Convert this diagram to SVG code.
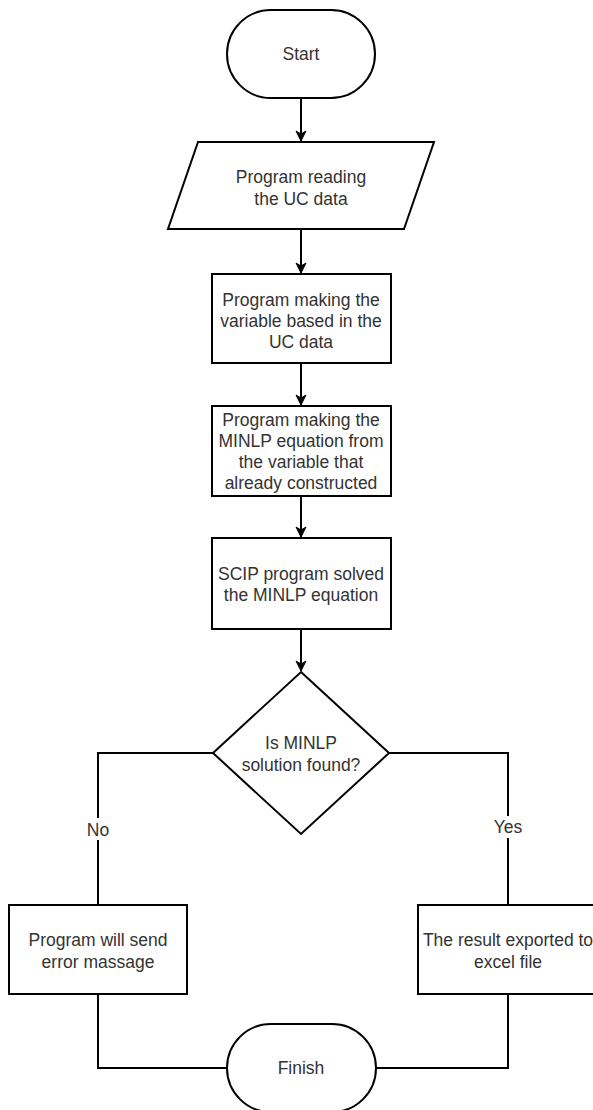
<svg xmlns="http://www.w3.org/2000/svg" width="593" height="1110" viewBox="0 0 593 1110">
  <style>
    .shape { fill: #ffffff; stroke: #000000; stroke-width: 2; }
    .edge { fill: none; stroke: #000000; stroke-width: 2; }
    .t { font-family: "Liberation Sans", Arial, sans-serif; font-size: 17.5px; fill: #333333; text-anchor: middle; }
    .lbl { fill: #ffffff; stroke: none; }
  </style>
  <defs>
    <marker id="arrow" markerUnits="userSpaceOnUse" markerWidth="12" markerHeight="12" viewBox="0 0 12 12" refX="11" refY="6" orient="auto">
      <path d="M1,1 L11,6 L1,11 L4,6 z" fill="#000000" stroke="#000000" stroke-width="1"/>
    </marker>
  </defs>
  <rect width="593" height="1110" fill="#ffffff"/>

  <g id="connectors">
    <line class="edge" x1="301" y1="98" x2="301" y2="141" marker-end="url(#arrow)"/>
    <line class="edge" x1="301" y1="229" x2="301" y2="273" marker-end="url(#arrow)"/>
    <line class="edge" x1="301" y1="363" x2="301" y2="405" marker-end="url(#arrow)"/>
    <line class="edge" x1="301" y1="496" x2="301" y2="537" marker-end="url(#arrow)"/>
    <line class="edge" x1="301" y1="629" x2="301" y2="671" marker-end="url(#arrow)"/>
    <path class="edge" d="M213,753 H98 V905"/>
    <path class="edge" d="M389,753 H508 V905"/>
    <path class="edge" d="M98,994 V1068 H227"/>
    <path class="edge" d="M508,994 V1068 H376"/>
    <rect class="lbl" x="86" y="818" width="24" height="22"/>
    <text class="t" x="98" y="836">No</text>
    <rect class="lbl" x="492" y="816" width="32" height="22"/>
    <text class="t" x="508" y="833">Yes</text>
  </g>

  <g id="start">
    <rect class="shape" x="227" y="10" width="148" height="88" rx="44" ry="44"/>
    <text class="t" x="301" y="60">Start</text>
  </g>

  <g id="read-data">
    <polygon class="shape" points="198,142 434,142 404,229 168,229"/>
    <text class="t" x="301" y="183">Program reading</text>
    <text class="t" x="301" y="205">the UC data</text>
  </g>

  <g id="make-variable">
    <rect class="shape" x="212" y="274" width="179" height="89"/>
    <text class="t" x="301" y="306">Program making the</text>
    <text class="t" x="301" y="327">variable based in the</text>
    <text class="t" x="301" y="348">UC data</text>
  </g>

  <g id="make-equation">
    <rect class="shape" x="212" y="406" width="179" height="90"/>
    <text class="t" x="301" y="426">Program making the</text>
    <text class="t" x="301" y="447">MINLP equation from</text>
    <text class="t" x="301" y="468">the variable that</text>
    <text class="t" x="301" y="489">already constructed</text>
  </g>

  <g id="scip-solve">
    <rect class="shape" x="212" y="538" width="179" height="91"/>
    <text class="t" x="301" y="580">SCIP program solved</text>
    <text class="t" x="301" y="601">the MINLP equation</text>
  </g>

  <g id="decision">
    <polygon class="shape" points="301,672 389,753 301,834 213,753"/>
    <text class="t" x="301" y="749">Is MINLP</text>
    <text class="t" x="301" y="771">solution found?</text>
  </g>

  <g id="error">
    <rect class="shape" x="9" y="905" width="178" height="89"/>
    <text class="t" x="98" y="946">Program will send</text>
    <text class="t" x="98" y="968">error massage</text>
  </g>

  <g id="export">
    <rect class="shape" x="418" y="905" width="178" height="89"/>
    <text class="t" x="508" y="946">The result exported to</text>
    <text class="t" x="508" y="968">excel file</text>
  </g>

  <g id="finish">
    <rect class="shape" x="227" y="1024" width="149" height="88" rx="44" ry="44"/>
    <text class="t" x="301" y="1074">Finish</text>
  </g>
</svg>
